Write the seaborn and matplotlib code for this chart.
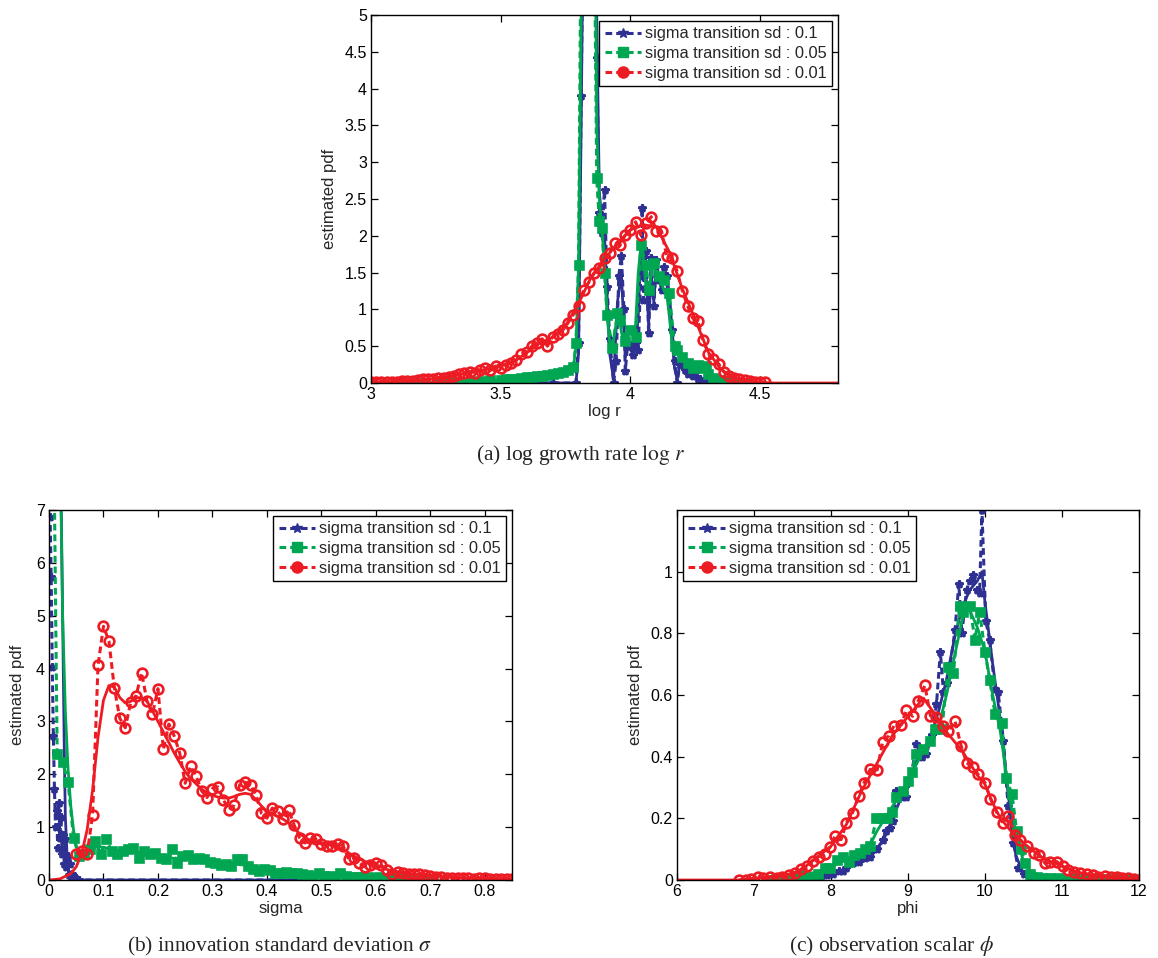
import matplotlib
matplotlib.use("Agg")
import matplotlib.pyplot as plt
from matplotlib.lines import Line2D
from matplotlib.ticker import FuncFormatter
import seaborn as sns

# ---- panel (a): log r ----
a_blue_raw_x = [3.00, 3.70, 3.79, 3.80, 3.81, 3.82, 3.84, 3.86, 3.87, 3.88, 3.89, 3.90, 3.91, 3.92,
                3.935, 3.945, 3.955, 3.965, 3.975, 3.98, 3.99, 4.00, 4.01, 4.02, 4.03, 4.04, 4.045,
                4.05, 4.06, 4.07, 4.08, 4.09, 4.10, 4.11, 4.12, 4.13, 4.14, 4.15, 4.16, 4.17, 4.18,
                4.19, 4.20, 4.21, 4.22, 4.23, 4.24, 4.25, 4.26, 4.27, 4.28, 4.29, 4.30, 4.45]
a_blue_raw_y = [0.00, 0.00, 0.00, 0.55, 3.90, 7.0, 10.0, 7.0, 4.41, 2.31, 2.04, 2.62, 1.31, 0.60,
                0.00, 0.30, 1.45, 1.72, 1.00, 0.16, 0.55, 0.50, 0.38, 0.55, 0.45, 1.50, 2.38,
                1.13, 1.80, 0.68, 1.70, 1.04, 1.67, 1.40, 1.27, 1.58, 1.45, 1.20, 0.72, 0.30, 0.00,
                0.25, 0.30, 0.18, 0.12, 0.15, 0.10, 0.14, 0.05, 0.06, 0.02, 0.03, 0.00, 0.00]
a_blue_fit_x = [3.00, 3.79, 3.80, 3.81, 3.82, 3.85, 3.87, 3.88, 3.89, 3.90, 3.91, 3.92, 3.935, 3.95,
                3.965, 3.98, 3.99, 4.00, 4.01, 4.02, 4.03, 4.04, 4.05, 4.06, 4.07, 4.08, 4.09, 4.10,
                4.11, 4.12, 4.13, 4.14, 4.15, 4.16, 4.17, 4.18, 4.19, 4.20, 4.22, 4.24, 4.26, 4.28,
                4.30, 4.45]
a_blue_fit_y = [0.0, 0.0, 0.4, 3.5, 7.0, 9.0, 5.0, 2.6, 2.2, 2.0, 1.2, 0.4, 0.05, 1.1,
                1.5, 0.35, 0.5, 0.45, 0.4, 0.5, 0.9, 1.8, 1.4, 1.5, 0.8, 1.5, 1.1, 1.6,
                1.4, 1.3, 1.5, 1.35, 1.0, 0.6, 0.2, 0.05, 0.25, 0.25, 0.12, 0.10, 0.05, 0.02,
                0.0, 0.0]

a_green_raw_x = [3.00, 3.10, 3.20, 3.26, 3.30, 3.34, 3.38, 3.42, 3.46, 3.50, 3.52, 3.54, 3.56, 3.58,
                 3.60, 3.62, 3.64, 3.66, 3.68, 3.70, 3.72, 3.74, 3.76, 3.78, 3.79, 3.80, 3.81, 3.83,
                 3.85, 3.86, 3.87, 3.88, 3.89, 3.90, 3.91, 3.93, 3.95, 3.96, 3.98, 4.00, 4.02, 4.04,
                 4.06, 4.07, 4.09, 4.11, 4.13, 4.15, 4.17, 4.18, 4.20, 4.22, 4.24, 4.26, 4.28, 4.29,
                 4.30, 4.32, 4.34, 4.36, 4.38, 4.40, 4.45]
a_green_raw_y = [0.00, 0.00, 0.00, 0.005, 0.01, 0.015, 0.02, 0.03, 0.035, 0.045, 0.05, 0.055, 0.06, 0.065,
                 0.075, 0.08, 0.09, 0.10, 0.11, 0.12, 0.13, 0.15, 0.17, 0.22, 0.54, 1.61, 6.5, 10.0,
                 10.0, 6.5, 2.78, 2.20, 2.10, 1.50, 0.93, 0.47, 0.95, 0.85, 0.57, 0.72, 0.62, 1.88,
                 1.60, 1.27, 1.63, 1.45, 1.40, 1.22, 0.50, 0.45, 0.36, 0.27, 0.20, 0.24, 0.21, 0.23,
                 0.12, 0.07, 0.04, 0.02, 0.01, 0.00, 0.00]
a_green_fit_x = [3.00, 3.20, 3.30, 3.40, 3.50, 3.60, 3.70, 3.78, 3.79, 3.80, 3.81, 3.82, 3.86, 3.87,
                 3.88, 3.89, 3.90, 3.91, 3.92, 3.93, 3.94, 3.95, 3.96, 3.97, 3.98, 3.99, 4.00, 4.01,
                 4.02, 4.03, 4.04, 4.05, 4.06, 4.07, 4.08, 4.09, 4.10, 4.11, 4.12, 4.13, 4.14, 4.15,
                 4.16, 4.17, 4.18, 4.20, 4.22, 4.24, 4.26, 4.28, 4.30, 4.34, 4.40, 4.45]
a_green_fit_y = [0.0, 0.0, 0.01, 0.03, 0.045, 0.075, 0.12, 0.2, 0.5, 1.6, 5.0, 8.0, 8.0, 3.5,
                 2.5, 2.1, 1.6, 0.9, 0.55, 0.45, 0.7, 0.9, 0.8, 0.6, 0.6, 0.7, 0.7, 0.65,
                 0.8, 1.5, 1.85, 1.7, 1.3, 1.2, 1.5, 1.6, 1.5, 1.45, 1.35, 1.25, 1.2, 0.9,
                 0.55, 0.48, 0.42, 0.35, 0.26, 0.2, 0.2, 0.18, 0.1, 0.04, 0.01, 0.0]

a_red_raw_x = [3.00, 3.02, 3.04, 3.06, 3.08, 3.10, 3.12, 3.14, 3.16, 3.18, 3.20, 3.22, 3.24, 3.26,
               3.28, 3.30, 3.32, 3.34, 3.36, 3.38, 3.40, 3.42, 3.44, 3.46, 3.48, 3.50, 3.52, 3.54,
               3.56, 3.58, 3.60, 3.62, 3.64, 3.66, 3.68, 3.70, 3.72, 3.74, 3.76, 3.78, 3.80, 3.82,
               3.84, 3.86, 3.88, 3.90, 3.92, 3.94, 3.96, 3.98, 4.00, 4.02, 4.04, 4.06, 4.08, 4.10,
               4.12, 4.14, 4.16, 4.18, 4.20, 4.22, 4.24, 4.26, 4.28, 4.30, 4.32, 4.34, 4.36, 4.38,
               4.40, 4.42, 4.44, 4.46, 4.48, 4.50, 4.52]
a_red_raw_y = [0.01, 0.01, 0.01, 0.02, 0.02, 0.02, 0.03, 0.03, 0.03, 0.04, 0.05, 0.05, 0.05, 0.07,
               0.07, 0.08, 0.10, 0.12, 0.13, 0.15, 0.14, 0.17, 0.21, 0.17, 0.23, 0.21, 0.24, 0.27,
               0.31, 0.39, 0.42, 0.50, 0.55, 0.60, 0.50, 0.63, 0.66, 0.72, 0.82, 0.93, 1.04, 1.27,
               1.37, 1.49, 1.56, 1.70, 1.77, 1.90, 1.87, 2.01, 2.08, 2.19, 2.01, 2.17, 2.26, 2.07,
               2.06, 1.72, 1.70, 1.52, 1.25, 1.05, 0.88, 0.84, 0.58, 0.40, 0.32, 0.26, 0.15, 0.10,
               0.07, 0.05, 0.04, 0.03, 0.02, 0.01, 0.01]
a_red_fit_x = [3.00, 3.05, 3.10, 3.15, 3.20, 3.25, 3.30, 3.35, 3.40, 3.45, 3.50, 3.55, 3.60, 3.65,
               3.70, 3.75, 3.80, 3.85, 3.90, 3.95, 4.00, 4.05, 4.10, 4.15, 4.20, 4.25, 4.30, 4.35,
               4.40, 4.45, 4.50, 4.55, 4.80]
a_red_fit_y = [0.01, 0.015, 0.02, 0.03, 0.04, 0.06, 0.08, 0.12, 0.15, 0.19, 0.23, 0.29, 0.41, 0.54,
               0.62, 0.78, 1.08, 1.45, 1.68, 1.90, 2.08, 2.15, 2.12, 1.78, 1.28, 0.86, 0.42, 0.18,
               0.07, 0.03, 0.01, 0.0, 0.0]

# ---- panel (b): sigma ----
b_blue_raw_x = [0.000, 0.002, 0.004, 0.006, 0.008, 0.010, 0.012, 0.014, 0.016, 0.018, 0.020, 0.022,
                0.024, 0.026, 0.028, 0.030, 0.032, 0.034, 0.036, 0.038, 0.040, 0.042, 0.044, 0.046,
                0.048, 0.050, 0.052, 0.055, 0.47]
b_blue_raw_y = [14.0, 6.87, 5.74, 4.03, 2.73, 1.72, 1.00, 1.31, 0.60, 1.45, 0.80, 1.20,
                0.50, 0.85, 0.30, 0.78, 0.25, 0.45, 0.10, 0.30, 0.05, 0.12, 0.02, 0.06,
                0.01, 0.03, 0.00, 0.00, 0.00]
b_blue_fit_x = [0.000, 0.010, 0.020, 0.025, 0.028, 0.030, 0.033, 0.036, 0.040, 0.045, 0.050, 0.47]
b_blue_fit_y = [20.0, 15.0, 9.0, 5.0, 2.5, 1.2, 0.5, 0.2, 0.08, 0.02, 0.0, 0.0]

b_green_raw_x = [0.005, 0.015, 0.025, 0.035, 0.045, 0.055, 0.065, 0.075, 0.085, 0.095, 0.105, 0.115,
                 0.125, 0.135, 0.145, 0.155, 0.165, 0.175, 0.185, 0.195, 0.205, 0.215, 0.225, 0.235,
                 0.245, 0.255, 0.265, 0.275, 0.285, 0.295, 0.305, 0.315, 0.325, 0.335, 0.345, 0.355,
                 0.365, 0.375, 0.385, 0.395, 0.405, 0.415, 0.425, 0.435, 0.445, 0.455, 0.465, 0.475,
                 0.485, 0.495, 0.505, 0.515, 0.525, 0.535, 0.545, 0.555, 0.565, 0.575, 0.585, 0.595,
                 0.605, 0.615, 0.625, 0.635, 0.645, 0.655, 0.665, 0.675, 0.685, 0.695, 0.705]
b_green_raw_y = [12.0, 2.38, 2.23, 1.85, 0.80, 0.45, 0.49, 0.58, 0.74, 0.49, 0.77, 0.55,
                 0.49, 0.55, 0.58, 0.61, 0.42, 0.55, 0.49, 0.52, 0.42, 0.39, 0.59, 0.33,
                 0.46, 0.47, 0.40, 0.42, 0.39, 0.34, 0.33, 0.28, 0.30, 0.27, 0.40, 0.39,
                 0.27, 0.20, 0.17, 0.20, 0.19, 0.14, 0.14, 0.15, 0.14, 0.13, 0.11, 0.09,
                 0.08, 0.13, 0.08, 0.08, 0.06, 0.13, 0.08, 0.06, 0.05, 0.06, 0.05, 0.04,
                 0.05, 0.04, 0.04, 0.03, 0.04, 0.02, 0.03, 0.02, 0.02, 0.01, 0.01]
b_green_fit_x = [0.000, 0.010, 0.020, 0.025, 0.030, 0.035, 0.040, 0.045, 0.050, 0.060, 0.070, 0.080,
                 0.090, 0.100, 0.120, 0.140, 0.160, 0.180, 0.200, 0.220, 0.240, 0.260, 0.280, 0.300,
                 0.320, 0.340, 0.360, 0.380, 0.400, 0.420, 0.440, 0.460, 0.480, 0.500, 0.520, 0.540,
                 0.560, 0.600, 0.650, 0.700]
b_green_fit_y = [14.0, 12.0, 8.5, 5.0, 3.2, 2.1, 1.4, 0.95, 0.65, 0.45, 0.50, 0.60,
                 0.63, 0.62, 0.57, 0.55, 0.53, 0.50, 0.46, 0.42, 0.40, 0.38, 0.36, 0.32,
                 0.29, 0.30, 0.28, 0.21, 0.18, 0.15, 0.14, 0.12, 0.10, 0.09, 0.08, 0.08,
                 0.06, 0.05, 0.03, 0.01]

b_red_raw_x = [0.05, 0.06, 0.07, 0.08, 0.09, 0.10, 0.11, 0.12, 0.13, 0.14, 0.15, 0.16, 0.17, 0.18,
               0.19, 0.20, 0.21, 0.22, 0.23, 0.24, 0.25, 0.26, 0.27, 0.28, 0.29, 0.30, 0.31, 0.32,
               0.33, 0.34, 0.35, 0.36, 0.37, 0.38, 0.39, 0.40, 0.41, 0.42, 0.43, 0.44, 0.45, 0.46,
               0.47, 0.48, 0.49, 0.50, 0.51, 0.52, 0.53, 0.54, 0.55, 0.56, 0.57, 0.58, 0.59, 0.60,
               0.61, 0.62, 0.63, 0.64, 0.65, 0.66, 0.67, 0.68, 0.69, 0.70, 0.71, 0.72, 0.73, 0.74,
               0.75, 0.76, 0.77, 0.78, 0.79, 0.80, 0.81, 0.82, 0.83, 0.84, 0.85]
b_red_raw_y = [0.50, 0.55, 0.49, 1.23, 4.06, 4.80, 4.52, 3.63, 3.06, 2.88, 3.36, 3.49, 3.92, 3.38,
               3.14, 3.62, 2.47, 2.95, 2.72, 2.40, 1.83, 2.15, 1.97, 1.69, 1.56, 1.73, 1.76, 1.52,
               1.33, 1.42, 1.80, 1.85, 1.80, 1.61, 1.26, 1.17, 1.36, 1.30, 1.16, 1.33, 1.04, 0.80,
               0.70, 0.80, 0.77, 0.68, 0.65, 0.65, 0.68, 0.65, 0.39, 0.42, 0.32, 0.25, 0.28, 0.32,
               0.28, 0.19, 0.11, 0.15, 0.14, 0.11, 0.11, 0.11, 0.09, 0.08, 0.06, 0.05, 0.04, 0.04,
               0.03, 0.04, 0.03, 0.02, 0.03, 0.04, 0.02, 0.02, 0.01, 0.02, 0.02]
b_red_fit_x = [0.00, 0.02, 0.04, 0.05, 0.06, 0.07, 0.08, 0.09, 0.10, 0.11, 0.12, 0.13, 0.14, 0.15,
               0.16, 0.17, 0.18, 0.19, 0.20, 0.21, 0.22, 0.23, 0.24, 0.25, 0.26, 0.27, 0.28, 0.29,
               0.30, 0.31, 0.32, 0.33, 0.34, 0.35, 0.36, 0.37, 0.38, 0.39, 0.40, 0.41, 0.42, 0.43,
               0.44, 0.45, 0.46, 0.47, 0.48, 0.50, 0.52, 0.54, 0.56, 0.58, 0.60, 0.62, 0.64, 0.66,
               0.68, 0.70, 0.75, 0.80, 0.85]
b_red_fit_y = [0.0, 0.02, 0.12, 0.25, 0.5, 0.95, 1.7, 2.7, 3.4, 3.68, 3.65, 3.45, 3.35, 3.38,
               3.45, 3.45, 3.38, 3.2, 3.0, 2.8, 2.6, 2.4, 2.22, 2.05, 1.92, 1.82, 1.72, 1.65,
               1.6, 1.57, 1.55, 1.55, 1.58, 1.62, 1.64, 1.62, 1.52, 1.4, 1.3, 1.25, 1.2, 1.15,
               1.08, 0.98, 0.88, 0.8, 0.75, 0.7, 0.66, 0.58, 0.45, 0.35, 0.29, 0.2, 0.15, 0.12,
               0.1, 0.08, 0.04, 0.03, 0.02]

# ---- panel (c): phi ----
c_blue_raw_x = [7.60, 7.73, 7.80, 7.87, 7.95, 8.03, 8.10, 8.15, 8.20, 8.29, 8.37, 8.44, 8.51, 8.60,
                8.67, 8.72, 8.77, 8.81, 8.85, 8.92, 8.98, 9.05, 9.11, 9.18, 9.24, 9.31, 9.37, 9.42,
                9.46, 9.50, 9.55, 9.61, 9.66, 9.70, 9.76, 9.80, 9.85, 9.89, 9.93, 9.96, 10.01, 10.06,
                10.13, 10.17, 10.24, 10.30, 10.37, 10.43, 10.50, 10.58, 10.70, 11.00]
c_blue_raw_y = [0.0, 0.0, 0.005, 0.01, 0.016, 0.02, 0.028, 0.03, 0.04, 0.054, 0.06, 0.07, 0.076, 0.10,
                0.13, 0.16, 0.17, 0.19, 0.29, 0.27, 0.27, 0.35, 0.44, 0.40, 0.41, 0.47, 0.57, 0.74,
                0.61, 0.64, 0.70, 0.81, 0.96, 0.80, 0.94, 0.97, 0.99, 0.94, 0.93, 1.20, 0.84, 0.78,
                0.62, 0.61, 0.45, 0.24, 0.12, 0.04, 0.02, 0.005, 0.0, 0.0]
c_blue_fit_x = [7.6, 7.8, 8.0, 8.2, 8.4, 8.6, 8.7, 8.8, 8.9, 9.0, 9.1, 9.2, 9.3, 9.4, 9.5, 9.6,
                9.7, 9.8, 9.9, 9.96, 10.0, 10.1, 10.2, 10.3, 10.4, 10.5, 10.6, 10.8]
c_blue_fit_y = [0.0, 0.005, 0.015, 0.035, 0.065, 0.10, 0.14, 0.20, 0.26, 0.30, 0.38, 0.42, 0.47, 0.55,
                0.65, 0.78, 0.88, 0.94, 0.97, 1.0, 0.9, 0.7, 0.52, 0.28, 0.08, 0.02, 0.005, 0.0]

c_green_raw_x = [7.21, 7.29, 7.37, 7.44, 7.51, 7.58, 7.66, 7.75, 7.83, 7.92, 7.99, 8.08, 8.16, 8.23,
                 8.30, 8.38, 8.44, 8.51, 8.59, 8.66, 8.73, 8.79, 8.85, 8.93, 9.00, 9.05, 9.10, 9.20,
                 9.29, 9.35, 9.44, 9.52, 9.59, 9.67, 9.72, 9.80, 9.87, 9.93, 10.00, 10.06, 10.13,
                 10.22, 10.27, 10.35, 10.41, 10.47, 10.52, 10.58, 10.67, 10.75, 10.85, 10.95, 11.05,
                 11.15, 11.25, 11.35, 11.45, 11.55, 11.65, 11.75, 11.85, 11.95]
c_green_raw_y = [0.0, 0.002, 0.004, 0.006, 0.008, 0.011, 0.016, 0.011, 0.02, 0.04, 0.038, 0.065, 0.076, 0.06,
                 0.08, 0.087, 0.10, 0.11, 0.20, 0.20, 0.20, 0.22, 0.27, 0.29, 0.32, 0.35, 0.41, 0.425,
                 0.45, 0.49, 0.49, 0.69, 0.67, 0.89, 0.87, 0.89, 0.78, 0.87, 0.74, 0.65, 0.54,
                 0.51, 0.33, 0.28, 0.16, 0.10, 0.055, 0.02, 0.01, 0.008, 0.006, 0.005, 0.004,
                 0.005, 0.004, 0.003, 0.004, 0.003, 0.002, 0.003, 0.002, 0.001]
c_green_fit_x = [7.2, 7.5, 7.8, 8.0, 8.2, 8.4, 8.5, 8.6, 8.7, 8.8, 8.9, 9.0, 9.1, 9.2, 9.3, 9.4,
                 9.5, 9.6, 9.7, 9.75, 9.8, 9.9, 10.0, 10.1, 10.2, 10.3, 10.4, 10.5, 10.6, 10.8,
                 11.0, 12.0]
c_green_fit_y = [0.0, 0.01, 0.025, 0.04, 0.07, 0.09, 0.11, 0.16, 0.20, 0.24, 0.28, 0.32, 0.37, 0.42,
                 0.45, 0.50, 0.60, 0.72, 0.84, 0.88, 0.875, 0.82, 0.74, 0.60, 0.48, 0.30, 0.15,
                 0.06, 0.025, 0.01, 0.005, 0.0]

c_red_raw_x = [6.80, 6.89, 6.96, 7.05, 7.12, 7.21, 7.30, 7.37, 7.46, 7.53, 7.61, 7.69, 7.76, 7.84,
               7.92, 7.99, 8.05, 8.13, 8.20, 8.28, 8.36, 8.43, 8.51, 8.60, 8.67, 8.75, 8.82, 8.91,
               8.98, 9.06, 9.13, 9.22, 9.29, 9.36, 9.45, 9.52, 9.61, 9.69, 9.76, 9.84, 9.91, 10.00,
               10.07, 10.15, 10.23, 10.30, 10.39, 10.46, 10.54, 10.63, 10.70, 10.78, 10.85, 10.93,
               11.01, 11.08, 11.16, 11.23, 11.32, 11.40, 11.47, 11.56, 11.63, 11.71, 11.78, 11.86,
               11.94, 12.00]
c_red_raw_y = [0.0, 0.0, 0.002, 0.01, 0.005, 0.01, 0.008, 0.011, 0.016, 0.022, 0.035, 0.044, 0.063, 0.076,
               0.085, 0.107, 0.142, 0.131, 0.185, 0.218, 0.272, 0.316, 0.359, 0.357, 0.447, 0.468, 0.501,
               0.503, 0.550, 0.531, 0.579, 0.631, 0.533, 0.528, 0.500, 0.484, 0.516, 0.435, 0.381, 0.365,
               0.343, 0.316, 0.264, 0.220, 0.185, 0.207, 0.147, 0.131, 0.109, 0.089, 0.082, 0.054, 0.057,
               0.060, 0.044, 0.031, 0.027, 0.022, 0.020, 0.016, 0.011, 0.013, 0.011, 0.009, 0.005, 0.005,
               0.002, 0.001]
c_red_fit_x = [6.0, 6.8, 7.0, 7.2, 7.4, 7.6, 7.8, 8.0, 8.2, 8.4, 8.6, 8.8, 9.0, 9.1, 9.2, 9.3, 9.4,
               9.5, 9.6, 9.7, 9.8, 9.9, 10.0, 10.1, 10.2, 10.3, 10.4, 10.5, 10.6, 10.7, 10.8, 10.9,
               11.0, 11.2, 11.4, 11.6, 11.8, 12.0]
c_red_fit_y = [0.0, 0.0, 0.005, 0.01, 0.015, 0.03, 0.07, 0.11, 0.18, 0.29, 0.38, 0.47, 0.53, 0.56, 0.59,
               0.555, 0.52, 0.48, 0.45, 0.42, 0.38, 0.34, 0.31, 0.25, 0.20, 0.17, 0.14, 0.12, 0.10,
               0.08, 0.065, 0.055, 0.045, 0.025, 0.015, 0.01, 0.006, 0.003]

labels = ["sigma transition sd : 0.1", "sigma transition sd : 0.05", "sigma transition sd : 0.01"]
colors = ["#2e3192", "#00a651", "#ed1c24"]
markers = ["*", "s", "o"]
marker_sizes = [6, 5.5, 7]

W, H = 1158, 958

sns.set_style("ticks")
plt.rcParams["font.family"] = ["Liberation Sans", "DejaVu Sans"]
plt.rcParams["mathtext.fontset"] = "stix"

fig = plt.figure(figsize=(W / 100, H / 100), dpi=100)


def box(left, top, right, bottom):
    return [left / W, 1 - bottom / H, (right - left) / W, (bottom - top) / H]


def draw(ax, raw_x, raw_y, fit_x, fit_y, i):
    c = colors[i]
    face = "none" if markers[i] == "o" else c
    sns.lineplot(x=raw_x, y=raw_y, ax=ax, color=c, linestyle=(0, (2.2, 1.3)), linewidth=2.2,
                 marker=markers[i], markersize=marker_sizes[i], markeredgecolor=c,
                 markerfacecolor=face, markeredgewidth=1.9, errorbar=None, legend=False)
    sns.lineplot(x=fit_x, y=fit_y, ax=ax, color=c, linewidth=2.0, errorbar=None, legend=False)


def style(ax, xlim, ylim, xticks, yticks, xlabel, ylabel_x, loc):
    ax.set_xlim(*xlim)
    ax.set_ylim(*ylim)
    ax.set_xticks(xticks)
    ax.set_yticks(yticks)
    fmt = FuncFormatter(lambda v, p: "%g" % round(v, 3))
    ax.xaxis.set_major_formatter(fmt)
    ax.yaxis.set_major_formatter(fmt)
    ax.tick_params(direction="in", top=True, right=True, length=5, width=0.9,
                   labelsize=11.5, pad=3, colors="black")
    for s in ax.spines.values():
        s.set_linewidth(1.0)
        s.set_color("black")
    ax.set_xlabel(xlabel, fontsize=12, labelpad=1)
    ax.set_ylabel("estimated pdf", fontsize=12)
    ax.yaxis.set_label_coords(ylabel_x, 0.5)
    handles = [Line2D([], [], color=colors[i], linestyle=(0, (2.2, 1.3)), linewidth=2.2,
                      marker=markers[i], markersize=marker_sizes[i] + 1, markerfacecolor=colors[i],
                      markeredgecolor=colors[i]) for i in range(3)]
    leg = ax.legend(handles, labels, loc=loc, fontsize=11.8, frameon=True, fancybox=False,
                    edgecolor="black", framealpha=1, borderpad=0.35, labelspacing=0.28,
                    handlelength=2.2, handletextpad=0.25, borderaxespad=0.35)
    leg.get_frame().set_linewidth(1.0)


ax_a = fig.add_axes(box(371, 15, 838, 383))
draw(ax_a, a_blue_raw_x, a_blue_raw_y, a_blue_fit_x, a_blue_fit_y, 0)
draw(ax_a, a_green_raw_x, a_green_raw_y, a_green_fit_x, a_green_fit_y, 1)
draw(ax_a, a_red_raw_x, a_red_raw_y, a_red_fit_x, a_red_fit_y, 2)
style(ax_a, (3, 4.8), (0, 5), [3, 3.5, 4, 4.5], [0, 0.5, 1, 1.5, 2, 2.5, 3, 3.5, 4, 4.5, 5],
      "log r", -0.073, "upper right")

ax_b = fig.add_axes(box(49, 510, 512, 880))
draw(ax_b, b_blue_raw_x, b_blue_raw_y, b_blue_fit_x, b_blue_fit_y, 0)
draw(ax_b, b_green_raw_x, b_green_raw_y, b_green_fit_x, b_green_fit_y, 1)
draw(ax_b, b_red_raw_x, b_red_raw_y, b_red_fit_x, b_red_fit_y, 2)
style(ax_b, (0, 0.85), (0, 7), [0, 0.1, 0.2, 0.3, 0.4, 0.5, 0.6, 0.7, 0.8], [0, 1, 2, 3, 4, 5, 6, 7],
      "sigma", -0.052, "upper right")

ax_c = fig.add_axes(box(677, 510, 1139, 880))
draw(ax_c, c_blue_raw_x, c_blue_raw_y, c_blue_fit_x, c_blue_fit_y, 0)
draw(ax_c, c_green_raw_x, c_green_raw_y, c_green_fit_x, c_green_fit_y, 1)
draw(ax_c, c_red_raw_x, c_red_raw_y, c_red_fit_x, c_red_fit_y, 2)
style(ax_c, (6, 12), (0, 1.2), [6, 7, 8, 9, 10, 11, 12], [0, 0.2, 0.4, 0.6, 0.8, 1],
      "phi", -0.074, "upper left")

cap = dict(ha="center", va="center", fontsize=15.5, family=["Liberation Serif", "DejaVu Serif"])
fig.text(581 / W, 1 - 455 / H, r"(a) log growth rate $\log\,r$", **cap)
fig.text(279 / W, 1 - 946 / H, r"(b) innovation standard deviation $\sigma$", **cap)
fig.text(892 / W, 1 - 946 / H, r"(c) observation scalar $\phi$", **cap)

fig.savefig("out.png", dpi=100)
